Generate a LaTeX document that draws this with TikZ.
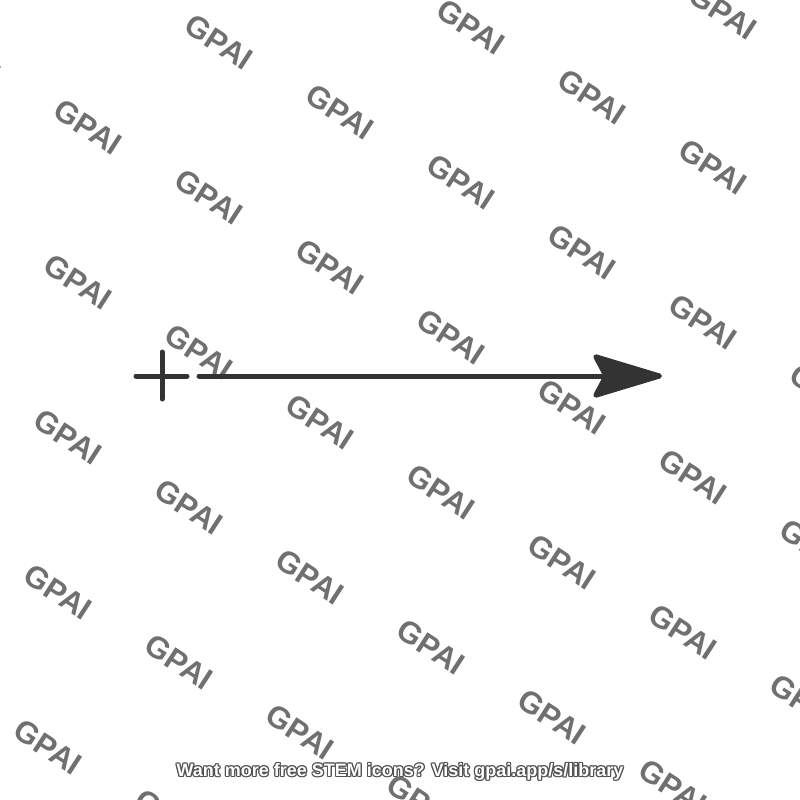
\documentclass[tikz,border=0pt]{standalone}
\usepackage{fontspec}
\setmainfont{Liberation Sans}
\usetikzlibrary{arrows.meta}
\definecolor{wmgray}{RGB}{112,112,112}
\definecolor{ink}{RGB}{51,51,51}
\definecolor{outl}{RGB}{80,80,80}
\tikzset{
  wm/.style={text=wmgray, font=\fontsize{31}{31}\selectfont\bfseries, rotate=-33, inner sep=0pt},
  stroke/.style={draw=ink, line width=5pt, line cap=round},
  connector/.style={stroke, -{Stealth[length=77pt, width=46pt, inset=12pt, round]}},
  foot/.style={font=\fontsize{18}{18}\selectfont\bfseries, inner sep=0pt}
}
\begin{document}
\begin{tikzpicture}[x=1pt, y=-1pt]
\useasboundingbox (0,0) rectangle (800,800);
\fill[white] (0,0) rectangle (800,800);
\begin{scope}
\clip (0,0) rectangle (800,800);
\foreach \i in {-5,...,4}{
  \foreach \j in {-3,...,12}{
    \pgfmathsetmacro{\cx}{88+252*\i+121*\j}
    \pgfmathsetmacro{\cy}{127-15*\i+70*\j}
    \node[wm] (wm\i\j) at (\cx,\cy) {GPAI};
  }
}
\end{scope}
% plus sign
\coordinate (ph1) at (136,376);
\coordinate (ph2) at (187,376);
\coordinate (pv1) at (162,352);
\coordinate (pv2) at (162,399);
\draw[stroke] (ph1) -- (ph2);
\draw[stroke] (pv1) -- (pv2);
% arrow
\coordinate (as) at (199,376);
\coordinate (ae) at (662,376);
\draw[connector] (as) -- (ae);
% footer
\foreach \dx/\dy in {-1.2/0,1.2/0,0/-1.2,0/1.2,-0.9/-0.9,0.9/0.9,-0.9/0.9,0.9/-0.9}{
  \node[foot, text=outl] at (400+\dx,772+\dy) {Want more free STEM icons? Visit gpai.app/s/library};
}
\node[foot, text=white] (footer) at (400,772) {Want more free STEM icons? Visit gpai.app/s/library};
\end{tikzpicture}
\end{document}
